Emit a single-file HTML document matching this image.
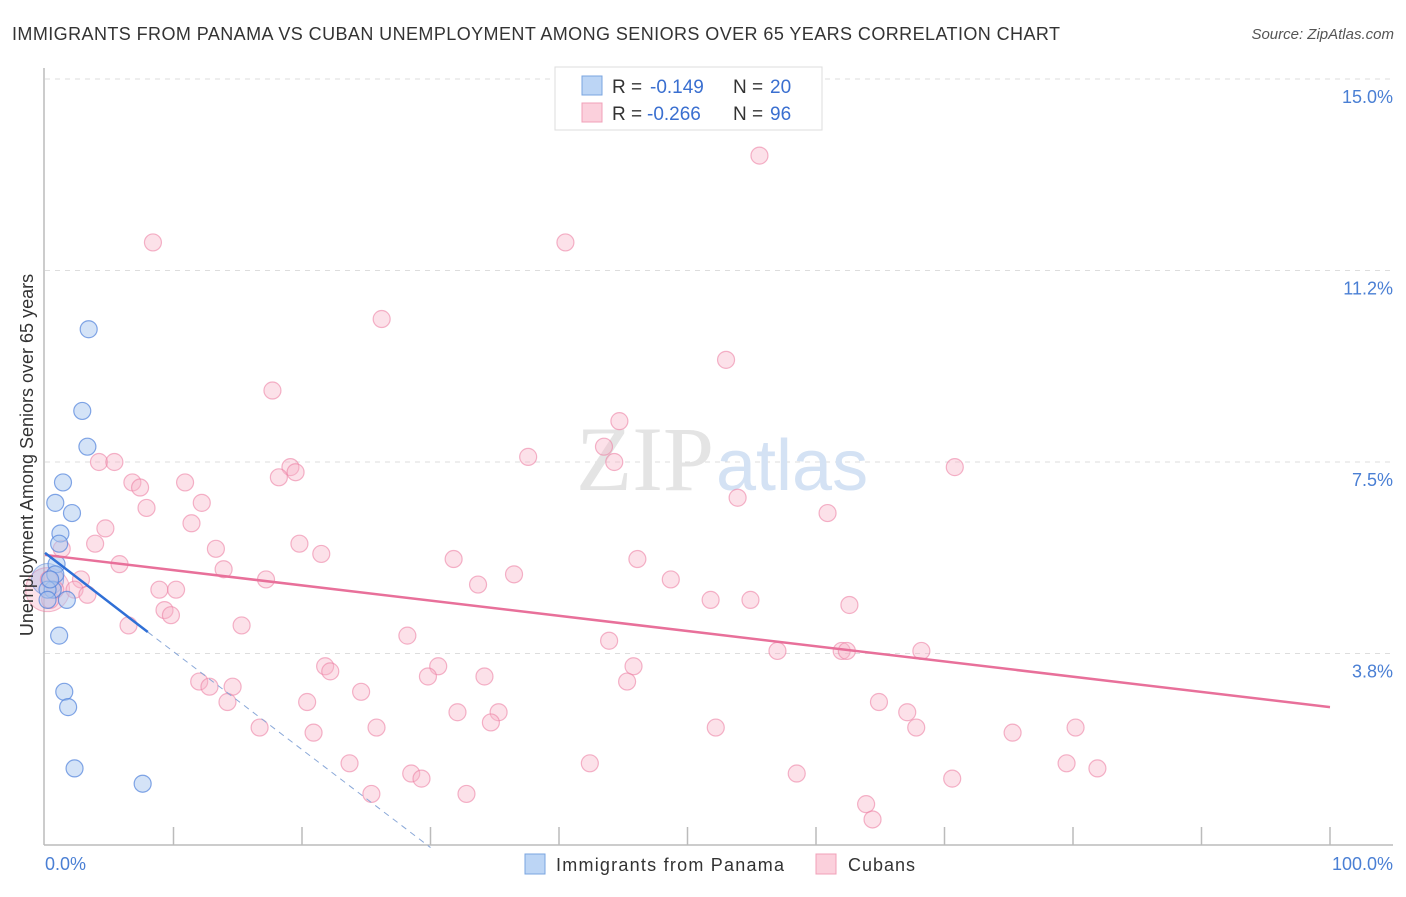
<!DOCTYPE html>
<html><head><meta charset="utf-8"><style>
body{margin:0;background:#fff;font-family:"Liberation Sans",sans-serif;}
</style></head><body>
<svg width="1406" height="892" xmlns="http://www.w3.org/2000/svg" font-family="Liberation Sans, sans-serif">
<text x="12" y="40" font-size="18" fill="#333" textLength="1048" lengthAdjust="spacing">IMMIGRANTS FROM PANAMA VS CUBAN UNEMPLOYMENT AMONG SENIORS OVER 65 YEARS CORRELATION CHART</text>
<text x="1394" y="39" font-size="15" fill="#555" text-anchor="end" font-style="italic">Source: ZipAtlas.com</text>
<g id="grid"></g>
<text x="714" y="490" font-size="92" fill="#e4e4e4" text-anchor="end" font-family="Liberation Serif, serif">ZIP</text>
<text x="716" y="490" font-size="72" fill="#d4e2f4">atlas</text>
<g id="axes"></g>
<g id="marks"></g>
<text transform="translate(33,455) rotate(-90)" font-size="18" fill="#333" text-anchor="middle">Unemployment Among Seniors over 65 years</text>
<text x="45" y="870" font-size="18" fill="#4a7fd4">0.0%</text>
<text x="1393" y="870" font-size="18" fill="#4a7fd4" text-anchor="end">100.0%</text>
<g>
<rect x="555" y="67" width="267" height="63" fill="#fff" stroke="#ddd"/>
<rect x="582" y="76" width="20" height="19" fill="#bcd5f5" stroke="#7aa5e0"/>
<rect x="582" y="103" width="20" height="19" fill="#fbd0dc" stroke="#f0a0b8"/>
<text x="612" y="93" font-size="19" fill="#333">R =</text>
<text x="650" y="93" font-size="19" fill="#3a6fd0">-0.149</text>
<text x="733" y="93" font-size="19" fill="#333">N =</text>
<text x="770" y="93" font-size="19" fill="#3a6fd0">20</text>
<text x="612" y="120" font-size="19" fill="#333">R =</text>
<text x="647" y="120" font-size="19" fill="#3a6fd0">-0.266</text>
<text x="733" y="120" font-size="19" fill="#333">N =</text>
<text x="770" y="120" font-size="19" fill="#3a6fd0">96</text>
</g>
<g>
<rect x="525" y="854" width="20" height="20" fill="#bcd5f5" stroke="#7aa5e0"/>
<text x="556" y="871" font-size="18" fill="#333" textLength="228">Immigrants from Panama</text>
<rect x="816" y="854" width="20" height="20" fill="#fbd0dc" stroke="#f0a0b8"/>
<text x="848" y="871" font-size="18" fill="#333" textLength="67">Cubans</text>
</g>
</svg>
<script>
const yTicks=[3.75,7.5,11.25,15];
const yTickLabels=["3.8%","7.5%","11.2%","15.0%"];
const blueX=[3.4,2.9,3.3,1.4,0.8,2.1,1.2,1.1,0.9,0.8,0.6,1.7,0.2,1.1,1.5,1.8,2.3,7.6,0.4,0.2];
const blueY=[10.1,8.5,7.8,7.1,6.7,6.5,6.1,5.9,5.5,5.3,5.0,4.8,5.0,4.1,3.0,2.7,1.5,1.2,5.2,4.8];
const pinkX=[8.4,40.5,55.6,26.2,53.0,17.7,44.7,43.5,37.6,44.3,70.8,4.2,5.4,6.8,7.4,10.9,19.1,19.5,18.2,12.2,7.9,53.9,60.9,4.7,11.4,3.9,1.3,13.3,19.8,21.5,5.8,13.9,31.8,46.1,36.5,17.2,2.8,2.3,3.3,8.9,10.2,33.7,48.7,9.3,9.8,51.8,54.9,62.6,6.5,15.3,28.2,43.9,57.0,62.0,62.4,68.2,21.8,22.2,30.6,45.8,29.8,34.2,12.0,12.8,14.6,24.6,45.3,14.2,20.4,64.9,32.1,35.3,34.7,67.1,16.7,25.8,52.2,67.8,80.2,20.9,75.3,23.7,42.4,79.5,81.9,28.5,29.3,58.5,70.6,25.4,32.8,63.9,64.4,0.4,0.8,0.3];
const pinkY=[11.8,11.8,13.5,10.3,9.5,8.9,8.3,7.8,7.6,7.5,7.4,7.5,7.5,7.1,7.0,7.1,7.4,7.3,7.2,6.7,6.6,6.8,6.5,6.2,6.3,5.9,5.8,5.8,5.9,5.7,5.5,5.4,5.6,5.6,5.3,5.2,5.2,5.0,4.9,5.0,5.0,5.1,5.2,4.6,4.5,4.8,4.8,4.7,4.3,4.3,4.1,4.0,3.8,3.8,3.8,3.8,3.5,3.4,3.5,3.5,3.3,3.3,3.2,3.1,3.1,3.0,3.2,2.8,2.8,2.8,2.6,2.6,2.4,2.6,2.3,2.3,2.3,2.3,2.3,2.2,2.2,1.6,1.6,1.6,1.5,1.4,1.3,1.4,1.3,1.0,1.0,0.8,0.5,4.8,5.0,5.2];
const blueTrend=[[0,5.72],[8,4.17]];
const blueDash=[[8,4.17],[30,-0.05]];
const pinkTrend=[[0,5.68],[100,2.7]];
const NS="http://www.w3.org/2000/svg";
const X=v=>45+v/100*1285, Y=v=>845-v/15*766;
function mk(t,a,p){const e=document.createElementNS(NS,t);for(const k in a)e.setAttribute(k,a[k]);p.appendChild(e);return e;}
const grid=document.getElementById('grid'),axes=document.getElementById('axes'),marks=document.getElementById('marks');
yTicks.forEach((t,i)=>{
 const l=mk('line',{x1:45,x2:1393,y1:Y(t),y2:Y(t),stroke:'#ddd','stroke-dasharray':'5,5'},grid);
 
 
 const tx=mk('text',{x:1393,y:Y(t)+24,'font-size':18,fill:'#4a7fd4','text-anchor':'end'},axes);
 tx.textContent=yTickLabels[i];
 
 
});
const ax=mk('line',{x1:44,x2:44,y1:68,y2:845,stroke:'#bbb','stroke-width':1.5},axes);


const bx=mk('line',{x1:44,x2:1393,y1:845,y2:845,stroke:'#bbb','stroke-width':1.5},axes);


for(let i=1;i<=10;i++){const t=mk('line',{x1:X(i*10),x2:X(i*10),y1:827,y2:845,stroke:'#bbb','stroke-width':1.5},axes);
 
 }
[[0.2,5.0,22,'pink'],[0.2,5.2,16,'blue']].forEach(d=>{
 const c=mk('circle',{cx:X(d[0]),cy:Y(d[1]),r:d[2],fill:d[3]=='pink'?'rgba(244,160,184,0.3)':'rgba(140,170,230,0.3)',stroke:d[3]=='pink'?'rgba(236,120,155,0.5)':'rgba(80,130,220,0.5)'},marks);
 
 
});
pinkX.forEach((x,i)=>{const c=mk('circle',{cx:X(x),cy:Y(pinkY[i]),r:8.5,fill:'rgba(247,180,200,0.4)',stroke:'rgba(236,130,165,0.6)','stroke-width':1.2},marks);
 
 });
blueX.forEach((x,i)=>{const c=mk('circle',{cx:X(x),cy:Y(blueY[i]),r:8.5,fill:'rgba(170,200,240,0.5)',stroke:'rgba(80,130,220,0.7)','stroke-width':1.2},marks);
 
 });
const pl=mk('line',{x1:X(pinkTrend[0][0]),y1:Y(pinkTrend[0][1]),x2:X(pinkTrend[1][0]),y2:Y(pinkTrend[1][1]),stroke:'#e8709a','stroke-width':2.5},marks);


const bl=mk('line',{x1:X(blueTrend[0][0]),y1:Y(blueTrend[0][1]),x2:X(blueTrend[1][0]),y2:Y(blueTrend[1][1]),stroke:'#2f6fd6','stroke-width':2.5},marks);


const bd=mk('line',{x1:X(blueDash[0][0]),y1:Y(blueDash[0][1]),x2:X(blueDash[1][0]),y2:Y(blueDash[1][1]),stroke:'#8aa8d8','stroke-width':1,'stroke-dasharray':'6,5'},marks);


</script>
</body></html>
